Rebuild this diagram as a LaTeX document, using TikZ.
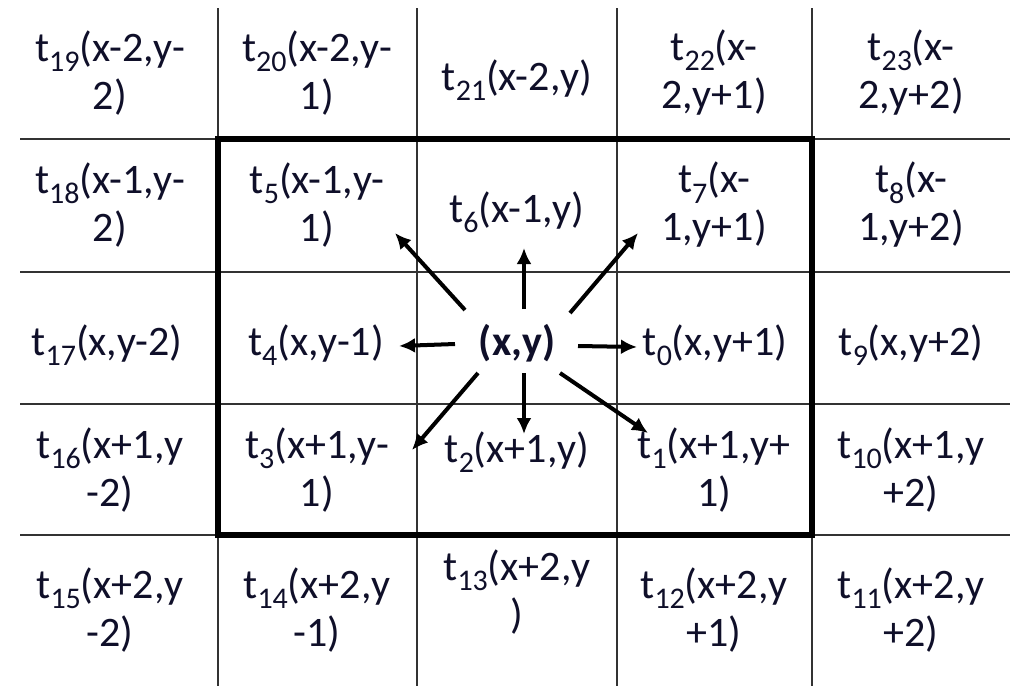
\documentclass[tikz,border=0pt]{standalone}
\usepackage{fontspec}
\setmainfont{Carlito}
\usepackage{tikz}
\usetikzlibrary{arrows.meta, positioning}

\definecolor{celltext}{rgb}{0.06,0.06,0.16}
\newcommand{\tsub}[1]{\raisebox{-0.5ex}{\fontsize{15}{15}\selectfont #1}}

\begin{document}
\begin{tikzpicture}[
    x=0.5pt, y=-0.5pt,
    cell/.style={align=center, text=celltext, inner sep=0pt, font=\fontsize{21}{24}\selectfont},
    centre/.style={cell, font=\fontsize{21}{24}\selectfont\bfseries},
    gridline/.style={line width=0.75pt, black!80},
    window/.style={line width=2.6pt, black},
    arrow/.style={-{Latex[length=8pt, width=7.5pt]}, line width=2pt, black}
]
    \useasboundingbox (0,0) rectangle (1010,686);

    % Grid
    \foreach \gx in {218, 417, 617, 812}
        \draw[gridline] (\gx,8) -- (\gx,686);
    \foreach \gy in {139, 272, 404, 535}
        \draw[gridline] (20,\gy) -- (1010,\gy);

    % 3x3 neighbourhood
    \draw[window] (218,139) rectangle (812,535);

    % Row x-2
    \node[cell] (t19) at (110,73) {t\tsub{19}(x-2,y-\\2)};
    \node[cell] (t20) at (317,73) {t\tsub{20}(x-2,y-\\1)};
    \node[cell] (t21) at (517,80) {t\tsub{21}(x-2,y)};
    \node[cell] (t22) at (714,73) {t\tsub{22}(x-\\2,y+1)};
    \node[cell] (t23) at (911,73) {t\tsub{23}(x-\\2,y+2)};

    % Row x-1
    \node[cell] (t18) at (110,205) {t\tsub{18}(x-1,y-\\2)};
    \node[cell] (t5) at (317,205) {t\tsub{5}(x-1,y-\\1)};
    \node[cell] (t6) at (517,212) {t\tsub{6}(x-1,y)};
    \node[cell] (t7) at (714,205) {t\tsub{7}(x-\\1,y+1)};
    \node[cell] (t8) at (911,205) {t\tsub{8}(x-\\1,y+2)};

    % Row x
    \node[cell] (t17) at (107,345) {t\tsub{17}(x,y-2)};
    \node[cell] (t4) at (316,345) {t\tsub{4}(x,y-1)};
    \node[centre] (c) at (517,343) {(x,y)};
    \node[cell] (t0) at (715,345) {t\tsub{0}(x,y+1)};
    \node[cell] (t9) at (911,345) {t\tsub{9}(x,y+2)};

    % Row x+1
    \node[cell] (t16) at (110,470) {t\tsub{16}(x+1,y\\-2)};
    \node[cell] (t3) at (317,470) {t\tsub{3}(x+1,y-\\1)};
    \node[cell] (t2) at (517,452) {t\tsub{2}(x+1,y)};
    \node[cell] (t1) at (714,470) {t\tsub{1}(x+1,y+\\1)};
    \node[cell] (t10) at (911,470) {t\tsub{10}(x+1,y\\+2)};

    % Row x+2
    \node[cell] (t15) at (110,610) {t\tsub{15}(x+2,y\\-2)};
    \node[cell] (t14) at (317,610) {t\tsub{14}(x+2,y\\-1)};
    \node[cell] (t13) at (517,592) {t\tsub{13}(x+2,y\\)};
    \node[cell] (t12) at (714,610) {t\tsub{12}(x+2,y\\+1)};
    \node[cell] (t11) at (911,610) {t\tsub{11}(x+2,y\\+2)};

    % Arrow ends
    \coordinate (sN) at (524,309);  \coordinate (eN) at (524,248);
    \coordinate (sNE) at (570,313); \coordinate (eNE) at (638,233);
    \coordinate (sE) at (578,346);  \coordinate (eE) at (637,347);
    \coordinate (sSE) at (560,373); \coordinate (eSE) at (648,433);
    \coordinate (sS) at (524,373);  \coordinate (eS) at (524,434);
    \coordinate (sSW) at (478,373); \coordinate (eSW) at (412,450);
    \coordinate (sW) at (455,344);  \coordinate (eW) at (399,346);
    \coordinate (sNW) at (465,310); \coordinate (eNW) at (395,233);

    % Neighbour arrows
    \draw[arrow] (sN) -- (eN);
    \draw[arrow] (sNE) -- (eNE);
    \draw[arrow] (sE) -- (eE);
    \draw[arrow] (sSE) -- (eSE);
    \draw[arrow] (sS) -- (eS);
    \draw[arrow] (sSW) -- (eSW);
    \draw[arrow] (sW) -- (eW);
    \draw[arrow] (sNW) -- (eNW);

\end{tikzpicture}
\end{document}
